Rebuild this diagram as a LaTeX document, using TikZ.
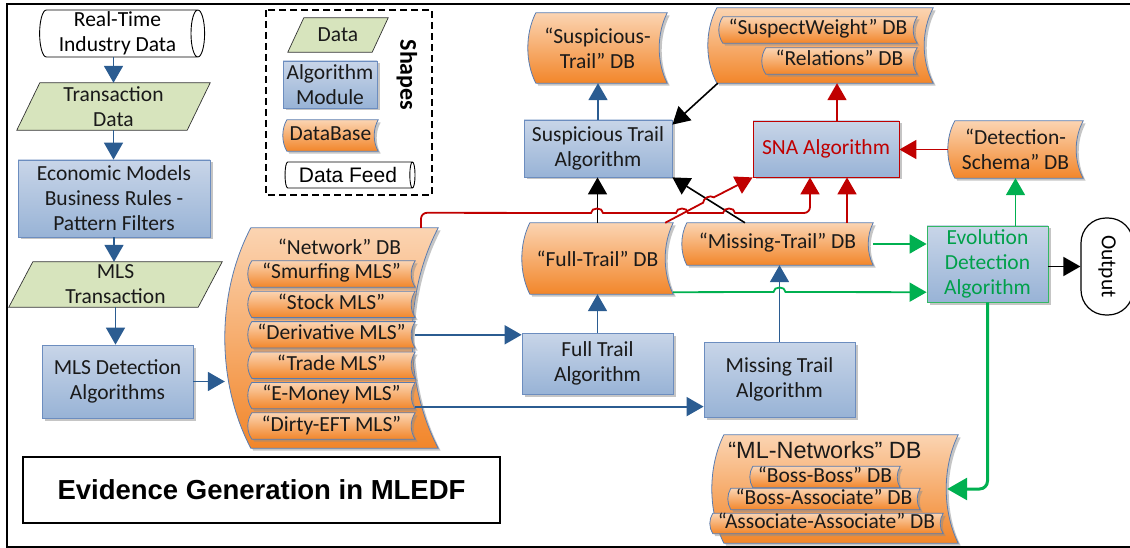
\documentclass[tikz,border=0pt]{standalone}
\usepackage{fontspec}
\setmainfont{Carlito}
\newfontfamily\arialfont{Liberation Sans}
\usetikzlibrary{arrows.meta,calc,shapes.geometric,shadows}

\definecolor{algtop}{HTML}{C8D5E8}
\definecolor{algbot}{HTML}{98B3D6}
\definecolor{algline}{HTML}{6C8DBF}
\definecolor{dbtop}{HTML}{FBD4B2}
\definecolor{dbbot}{HTML}{F2862A}
\definecolor{dbline}{HTML}{5A7CB0}
\definecolor{datafill}{HTML}{D7E4BD}
\definecolor{bluearrc}{HTML}{2B5C91}
\definecolor{redc}{HTML}{C00000}
\definecolor{greenc}{HTML}{00B050}
\definecolor{evoline}{HTML}{33B864}
\definecolor{evotext}{HTML}{00A04A}
\definecolor{txt}{HTML}{1A1A1A}

\newcommand{\mainsize}{\fontsize{21.5}{25}\selectfont}

\pgfdeclarelayer{background}
\pgfsetlayers{background,main}

% stored-data outline round a node: #1 node, #2 bulge (pt)
\newcommand{\dbout}[2]{%
  \path[dbshape] ([xshift=#2pt]#1.north west)
    .. controls ([xshift=-#2pt/3]$(#1.north west)!.3!(#1.south west)$)
            and ([xshift=-#2pt/3]$(#1.north west)!.7!(#1.south west)$)
    .. ([xshift=#2pt]#1.south west) -- (#1.south east)
    .. controls ([xshift=-4*#2pt/3]$(#1.north east)!.7!(#1.south east)$)
            and ([xshift=-4*#2pt/3]$(#1.north east)!.3!(#1.south east)$)
    .. (#1.north east) -- cycle;}

% data parallelogram round a node: #1 node, #2 slant (pt)
\newcommand{\dataout}[2]{%
  \path[datashape] ([xshift=#2pt]#1.north west) -- (#1.north east)
    -- ([xshift=-#2pt]#1.south east) -- (#1.south west) -- cycle;}

% line jump at (#1,#2)
\newcommand{\hop}[2]{-- ({#1-6},#2) .. controls ({#1-6},{#2+6}) and ({#1+6},{#2+6}) .. ({#1+6},#2)}

\tikzset{
  algbox/.style={draw=algline, line width=.8pt, top color=algtop, bottom color=algbot,
    text=txt, align=center, inner sep=1pt,
    drop shadow={shadow xshift=2.5pt, shadow yshift=-2.5pt, fill=black!45, opacity=.5}},
  snabox/.style={algbox, draw=redc, text=redc},
  evobox/.style={algbox, draw=evoline, text=evotext},
  dbnode/.style={align=center, inner sep=1pt, text=txt},
  dbitem/.style={dbnode, inner sep=0pt, text height=13pt, text depth=3pt},
  dbshape/.style={draw=dbline, line width=.8pt, top color=dbtop, bottom color=dbbot,
    drop shadow={shadow xshift=2.5pt, shadow yshift=-2.5pt, fill=black!45, opacity=.5}},
  datashape/.style={draw=black!80, line width=.7pt, fill=datafill},
  feed/.style={cylinder, draw, line width=.9pt, fill=white, shape aspect=.3,
    align=center, inner sep=1pt},
  outbox/.style={draw, line width=1.2pt, rounded corners=25pt},
  bluearr/.style={draw=bluearrc, line width=1.8pt, -{Triangle[length=17pt,width=19pt]}},
  blackarr/.style={draw=black, line width=1.6pt, -{Triangle[length=17pt,width=19pt]}},
  redarr/.style={draw=redc, line width=1.8pt, -{Triangle[length=17pt,width=19pt]}},
  greenarr/.style={draw=greenc, line width=1.8pt, -{Triangle[length=17pt,width=19pt]}},
}

\begin{document}
\begin{tikzpicture}[x=1pt,y=1pt, every node/.style={font=\mainsize}]
\useasboundingbox (0,0) rectangle (1130,-548);
\draw[line width=1.4pt] (7,-4) rectangle (1135,-547);

% left column
\node[feed, minimum height=165pt, minimum width=47pt] (feed) at (117.5,-33.5) {Real-Time\\Industry Data};
\node[dbnode, minimum width=193pt, minimum height=47pt] (txdata) at (113.5,-106.5) {Transaction\\Data};
\node[algbox, minimum width=192pt, minimum height=77pt] (econ) at (114,-198.5) {Economic Models\\Business Rules -\\Pattern Filters};
\node[dbnode, minimum width=213pt, minimum height=45pt] (mlstx) at (115.5,-284.5) {MLS\\Transaction};
\node[algbox, minimum width=151pt, minimum height=73pt] (mlsdet) at (117.5,-381.5) {MLS Detection\\Algorithms};

% network DB
\node[dbnode, minimum width=213pt, minimum height=220pt] (network) at (331.5,-338) {};
\node[dbnode] (nettitle) at ([xshift=8pt,yshift=-19pt]network.north) {“Network” DB};
\foreach \lab [count=\i] in {Smurfing MLS,Stock MLS,Derivative MLS,Trade MLS,E-Money MLS,Dirty-EFT MLS}
  \node[dbitem, minimum width=167pt, minimum height=26pt] (mls\i) at (331.5,{-274-30.4*(\i-1)}) {“\lab”};

% legend
\draw[line width=1.1pt, dash pattern=on 7pt off 4pt] (266,-10) rectangle (432,-195);
\node[dbnode, minimum width=100pt, minimum height=34pt] (legdata) at (338,-35) {Data};
\node[algbox, minimum width=94pt, minimum height=47pt] (legalg) at (330,-84.5) {Algorithm\\Module};
\node[dbitem, minimum width=95pt, minimum height=31pt] (legdb) at (330.5,-135.5) {DataBase};
\node[feed, minimum height=130pt, minimum width=26pt, font=\arialfont\fontsize{21}{24}\selectfont] (legfeed) at (348,-175) {Data Feed};
\node[rotate=-90, font=\bfseries\fontsize{24}{28}\selectfont] (shapes) at (407,-75) {Shapes};

% trails and SNA
\node[dbnode, minimum width=139pt, minimum height=70pt] (susdb) at (597.5,-48) {“Suspicious-\\Trail” DB};
\node[algbox, minimum width=148pt, minimum height=57pt] (susalg) at (598,-148.5) {Suspicious Trail\\Algorithm};
\node[dbnode, minimum width=225pt, minimum height=75pt] (swdb) at (820.5,-45.5) {};
\node[dbitem, minimum width=198pt, minimum height=26pt] (sweight) at (818,-30) {“SuspectWeight” DB};
\node[dbitem, minimum width=155pt, minimum height=26pt] (relations) at (839.5,-61) {“Relations” DB};
\node[snabox, minimum width=146pt, minimum height=56pt] (sna) at (826,-149) {SNA Algorithm};
\node[dbnode, minimum width=135pt, minimum height=57pt] (schema) at (1015.5,-149.5) {“Detection-\\Schema” DB};
\node[evobox, minimum width=121pt, minimum height=76pt] (evo) at (987.5,-264) {Evolution\\Detection\\Algorithm};
\node[outbox, rotate=-90, minimum width=97pt, minimum height=52pt] (output) at (1107,-266.5) {Output};
\node[dbnode, minimum width=151pt, minimum height=71pt] (fulldb) at (597.5,-258.5) {“Full-Trail” DB};
\node[dbitem, minimum width=191pt, minimum height=42pt] (missdb) at (777.5,-244) {“Missing-Trail” DB};
\node[algbox, minimum width=151pt, minimum height=61pt] (fullalg) at (597.5,-363.5) {Full Trail\\Algorithm};
\node[algbox, minimum width=151pt, minimum height=75pt] (missalg) at (779.5,-379.5) {Missing Trail\\Algorithm};

% ML networks
\node[dbnode, minimum width=246pt, minimum height=108pt] (mlnet) at (835,-489) {};
\node[dbnode, font=\arialfont\fontsize{23.5}{26}\selectfont] (mlnettitle) at ([xshift=-10pt,yshift=-15pt]mlnet.north) {“ML-Networks” DB};
\node[dbitem, minimum width=150pt, minimum height=21pt] (bossboss) at (825,-477) {“Boss-Boss” DB};
\node[dbitem, minimum width=192pt, minimum height=21pt] (bossassoc) at (824,-499) {“Boss-Associate” DB};
\node[dbitem, minimum width=233pt, minimum height=20pt] (assoc) at (826.5,-523.5) {“Associate-Associate” DB};

\node[draw, line width=1.2pt, minimum width=477pt, minimum height=66pt, font=\arialfont\bfseries\fontsize{27.5}{32}\selectfont] (title) at (261.5,-490) {Evidence Generation in MLEDF};

\begin{pgfonlayer}{background}
  \dbout{network}{26}
  \foreach \i in {1,...,6} {\dbout{mls\i}{4}}
  \dbout{legdb}{4}
  \dbout{susdb}{8}
  \dbout{swdb}{9}
  \dbout{sweight}{4}
  \dbout{relations}{4}
  \dbout{schema}{7}
  \dbout{fulldb}{8}
  \dbout{missdb}{5}
  \dbout{mlnet}{12}
  \dbout{bossboss}{3}
  \dbout{bossassoc}{3}
  \dbout{assoc}{3}
  \dataout{txdata}{23}
  \dataout{mlstx}{24}
  \dataout{legdata}{16}
\end{pgfonlayer}

% flow down the left
\draw[bluearr] (txdata.north |- feed.south) -- (txdata.north);
\draw[bluearr] (txdata.south) -- (txdata.south |- econ.north);
\draw[bluearr] (econ.south) -- (econ.south |- mlstx.north);
\draw[bluearr] (mlstx.south) -- (mlstx.south |- mlsdet.north);
\draw[bluearr] (mlsdet.east) -- (mlsdet.east -| network.west);
\draw[bluearr] (mls3.east) -- (mls3.east -| fullalg.west);
\draw[bluearr] ([yshift=-11pt]mls5.east) -- ([yshift=-11pt]mls5.east -| missalg.west);
\draw[bluearr] (fullalg.north) -- (fulldb.south);
\draw[bluearr] (missalg.north) -- (missalg.north |- missdb.south);
\draw[bluearr] (susalg.north) -- (susalg.north |- susdb.south);

% trails into suspicious trail
\draw[blackarr] (fulldb.north) -- (fulldb.north |- susalg.south);
\draw[blackarr] ([xshift=-32.5pt]missdb.north) -- (susalg.south east);
\draw[blackarr] ([xshift=10pt]swdb.south west) -- ([yshift=-5pt]susalg.north east);
\draw[blackarr] (evo.east |- output) -- (output.south);

% SNA
\draw[redarr] ([xshift=11pt]sna.north) -- ([xshift=11pt]sna.north |- swdb.south);
\draw[redarr] (schema.west) -- (schema.west -| sna.east);
\draw[redarr] ([xshift=69.5pt]missdb.north) -- ([xshift=69.5pt]missdb.north |- sna.south);
\draw[redarr] ([xshift=89.5pt]network.north) [rounded corners=6pt] -- ++(0,15) [sharp corners]
  \hop{597}{-213} \hop{682}{-213} \hop{729}{-213} [rounded corners=6pt] -| ([xshift=-16pt]sna.south);
\draw[redarr] ([xshift=-8pt]fulldb.north east) -- (703.1,-202.7) to[out=87,in=147] (713.9,-197.3) -- (sna.south west);

% evolution
\coordinate (gstart) at ([yshift=2pt]fulldb.south east);
\draw[greenarr] (missdb.east) -- (missdb.east -| evo.west);
\draw[greenarr] (gstart) \hop{779.5}{-292} -- (gstart -| evo.west);
\draw[greenarr] (schema.south |- evo.north) -- (schema.south);
\draw[greenarr, line width=3pt, rounded corners=8pt, -{Triangle[length=20pt,width=22pt]}] (evo.south) |- ([xshift=-11pt]mlnet.east);
\end{tikzpicture}
\end{document}
